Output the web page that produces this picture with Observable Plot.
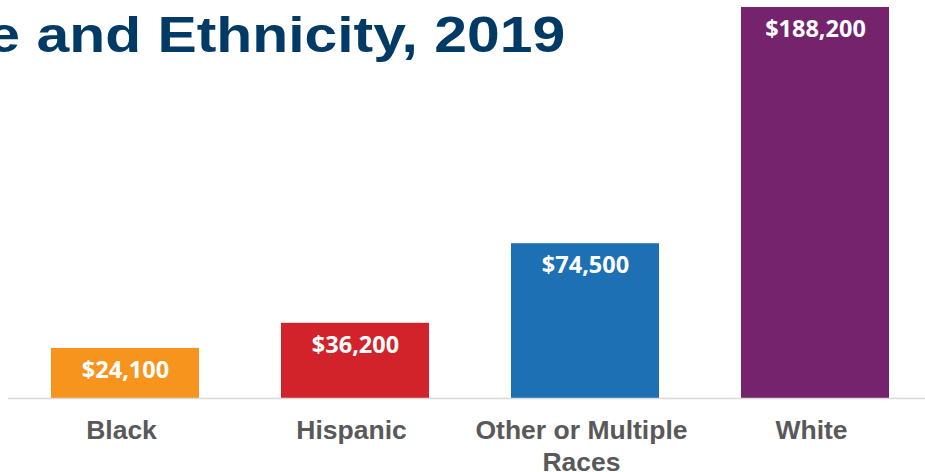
<!DOCTYPE html>
<html>
<head>
<meta charset="utf-8">
<script src="https://cdn.jsdelivr.net/npm/d3@7"></script>
<script src="https://cdn.jsdelivr.net/npm/@observablehq/plot@0.6"></script>
<style>
  html, body { margin: 0; padding: 0; background: #fff; overflow: hidden; }
  #wrap { position: relative; width: 925px; height: 472px; overflow: hidden; }
  #title {
    position: absolute; right: 360px; top: 10px; white-space: nowrap;
    font-family: "Liberation Sans", Arial, sans-serif; font-weight: bold; font-size: 50px;
    line-height: 50px; color: #023a66;
    transform: scaleX(1.177); transform-origin: right center;
  }
  #chart { position: absolute; left: 0; top: 0; }
</style>
</head>
<body>
<div id="wrap">
  <div id="chart"></div>
  <div id="title">Median Family Wealth by Race and Ethnicity, 2019</div>
</div>
<script>
const categories = ["Black", "Hispanic", "Other or Multiple Races", "White"];
const tickLabels = ["Black", "Hispanic", "Other or Multiple\nRaces", "White"];
const values = [24100, 36200, 74500, 188200];
const colors = ["#f7941e", "#d2232a", "#1e70b5", "#74236c"];

const data = categories.map((c, i) => ({category: c, value: values[i]}));
const fmt = d3.format(",");

const chart = Plot.plot({
  width: 925,
  height: 472,
  marginTop: 7,
  marginBottom: 74,
  marginLeft: 8,
  marginRight: 0,
  style: {background: "transparent"},
  x: {domain: categories, range: [8.75, 930.75], paddingInner: 0.358, paddingOuter: 0.179, label: null},
  y: {domain: [0, 188200], axis: null},
  color: {domain: categories, range: colors},
  marks: [
    Plot.barY(data, {x: "category", y: "value", fill: "category"}),
    Plot.ruleY([0], {stroke: "#d9d9d9", strokeWidth: 1.5}),
    Plot.text(data, {
      x: "category", y: "value", text: d => "$" + fmt(d.value),
      dy: 22, fill: "#fff", fontSize: 23.5, fontWeight: "bold",
      fontFamily: "'Open Sans', sans-serif", lineAnchor: "middle"
    }),
    Plot.axisX({
      tickSize: 0, tickPadding: 18, label: null, dx: -4,
      tickFormat: d => tickLabels[categories.indexOf(d)],
      fontSize: 26.5, fontWeight: "bold", fill: "#595959",
      fontFamily: "'Liberation Sans', Arial, sans-serif", lineHeight: 1.2
    })
  ]
});
document.getElementById("chart").appendChild(chart);
</script>
</body>
</html>
